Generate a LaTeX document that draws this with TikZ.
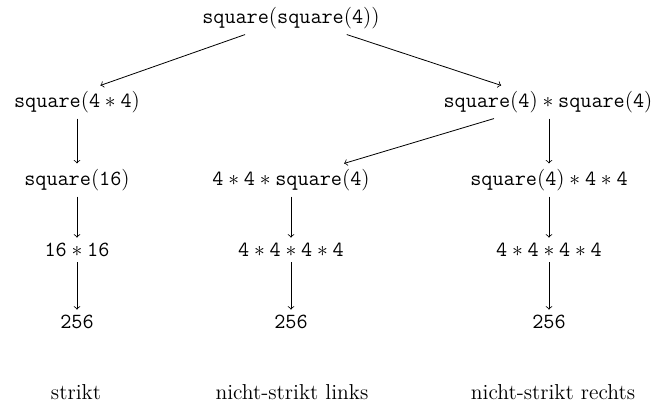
\documentclass[tikz,border=0pt]{standalone}
\newcommand{\sqf}{\mathtt{square}}
\newcommand{\dg}[1]{\mathtt{#1}}
\begin{document}
\begin{tikzpicture}[x=0.5556pt,y=-0.5556pt,
  every node/.append style={font=\fontsize{12}{14.4}\selectfont},
  term/.style={inner sep=3pt},
  lbl/.style={inner sep=2pt},
  arr/.style={->,line width=0.45pt}]
\useasboundingbox (0,0) rectangle (657,406);
\node[term] (top) at (291,18) {$\sqf(\sqf(\dg{4}))$};
\node[term] (l1) at (77,102) {$\sqf(\dg{4}*\dg{4})$};
\node[term] (r1) at (548,102) {$\sqf(\dg{4})*\sqf(\dg{4})$};
\node[term] (l2) at (77,180) {$\sqf(\dg{16})$};
\node[term] (m2) at (291,180) {$\dg{4}*\dg{4}*\sqf(\dg{4})$};
\node[term] (r2) at (549,180) {$\sqf(\dg{4})*\dg{4}*\dg{4}$};
\node[term] (l3) at (77,250) {$\dg{16}*\dg{16}$};
\node[term] (m3) at (291,250) {$\dg{4}*\dg{4}*\dg{4}*\dg{4}$};
\node[term] (r3) at (549,250) {$\dg{4}*\dg{4}*\dg{4}*\dg{4}$};
\node[term] (l4) at (77,322) {$\dg{256}$};
\node[term] (m4) at (291,322) {$\dg{256}$};
\node[term] (r4) at (549,322) {$\dg{256}$};
\node[lbl] (s1) at (76,392) {strikt};
\node[lbl] (s2) at (292,392) {nicht-strikt links};
\node[lbl] (s3) at (553,392) {nicht-strikt rechts};
\draw[arr] ([xshift=-25.5pt]top.south) -- ([xshift=13pt]l1.north);
\draw[arr] ([xshift=31pt]top.south) -- ([xshift=-26pt]r1.north);
\draw[arr] ([xshift=-30pt]r1.south) -- ([xshift=29.5pt]m2.north);
\draw[arr] (l1.south) -- (l2.north);
\draw[arr] (r1.south -| r2) -- (r2.north);
\draw[arr] (l2.south) -- (l3.north);
\draw[arr] (m2.south) -- (m3.north);
\draw[arr] (r2.south) -- (r3.north);
\draw[arr] (l3.south) -- (l4.north);
\draw[arr] (m3.south) -- (m4.north);
\draw[arr] (r3.south) -- (r4.north);
\end{tikzpicture}
\end{document}
